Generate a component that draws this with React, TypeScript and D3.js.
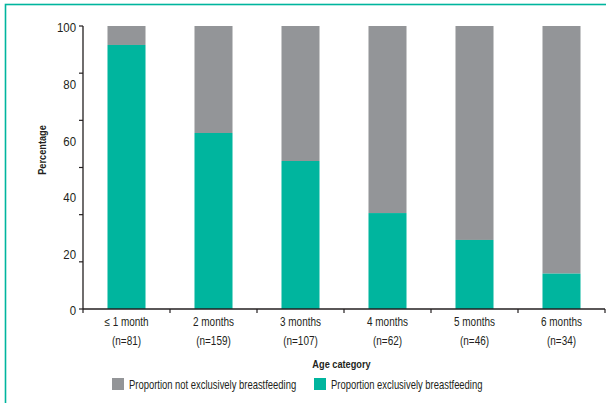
import React from "react";
import * as d3 from "d3";

const categories = ["≤ 1 month", "2 months", "3 months", "4 months", "5 months", "6 months"];
const sampleSizes = ["(n=81)", "(n=159)", "(n=107)", "(n=62)", "(n=46)", "(n=34)"];
const exclusive = [93.3, 62.2, 52.3, 33.9, 24.4, 12.5];
const notExclusive = exclusive.map((v) => 100 - v);
const yLabels = [0, 20, 40, 60, 80, 100];
const yTickMarks = [0, 1, 2, 3, 4, 5, 6].map((i) => (i * 100) / 6);
const legendItems = [
  { label: "Proportion not exclusively breastfeeding", key: "not" },
  { label: "Proportion exclusively breastfeeding", key: "excl" },
];

const TEAL = "#00b59e";
const GRAY = "#939598";
const INK = "#231f20";
const FONT = "'Liberation Sans', Arial, sans-serif";

function CText(props: {
  x: number; y: number; s: number; size: number; anchor?: string; bold?: boolean; rotate?: number; children: React.ReactNode;
}) {
  const { x, y, s, size, anchor = "start", bold, rotate = 0, children } = props;
  return (
    <text
      transform={`translate(${x},${y}) rotate(${rotate}) scale(${s},1)`}
      textAnchor={anchor}
      fontSize={size}
      fontWeight={bold ? "bold" : "normal"}
      fill={INK}
    >
      {children}
    </text>
  );
}

export default function App() {
  const W = 606, H = 403;
  const x0 = 83, x1 = 605, yTop = 26, yBot = 309;
  const x = d3.scaleBand<string>().domain(categories).range([x0, x1]).paddingInner(0.563).paddingOuter(0.2815);
  const y = d3.scaleLinear().domain([0, 100]).range([yBot, yTop]);
  const bw = x.bandwidth();
  const boundaries = d3.range(categories.length + 1).map((i) => x0 + i * ((x1 - x0) / categories.length));

  return (
    <svg width={W} height={H} style={{ position: "absolute", left: 0, top: 0, background: "#fff" }} fontFamily={FONT}>
      <rect x={5.5} y={4.5} width={W + 20} height={H + 20} fill="none" stroke={TEAL} strokeWidth={1.6} />
      {categories.map((c, i) => (
        <g key={c}>
          <rect x={x(c)} y={y(100)} width={bw} height={y(exclusive[i]) - y(100)} fill={GRAY} />
          <rect x={x(c)} y={y(exclusive[i])} width={bw} height={y(0) - y(exclusive[i])} fill={TEAL} />
        </g>
      ))}
      {/* y axis */}
      <line x1={x0} x2={x0} y1={yTop} y2={yBot} stroke={INK} strokeWidth={1.3} />
      {yTickMarks.map((t, i) => (
        <line key={i} x1={x0 - 4} x2={x0} y1={y(t)} y2={y(t)} stroke={INK} strokeWidth={1.2} />
      ))}
      {yLabels.map((t) => (
        <CText key={t} x={76} y={y(t) + 6.3} s={0.88} size={13} anchor="end">{t}</CText>
      ))}
      {/* x axis */}
      <line x1={x0} x2={x1} y1={yBot} y2={yBot} stroke={INK} strokeWidth={1.3} />
      {boundaries.map((b, i) => (
        <line key={i} x1={b} x2={b} y1={yBot} y2={yBot + 4} stroke={INK} strokeWidth={1.2} />
      ))}
      {categories.map((c, i) => (
        <g key={c}>
          <CText x={(x(c) as number) + bw / 2} y={326} s={0.83} size={12} anchor="middle">{c}</CText>
          <CText x={(x(c) as number) + bw / 2} y={345} s={0.83} size={12} anchor="middle">{sampleSizes[i]}</CText>
        </g>
      ))}
      <CText x={341.5} y={368} s={0.8} size={11.5} anchor="middle" bold>Age category</CText>
      <CText x={46} y={150} s={0.8} size={11.5} anchor="middle" bold rotate={-90}>Percentage</CText>
      {/* legend */}
      {legendItems.map((l, i) => {
        const lx = i === 0 ? 112 : 314;
        return (
          <g key={l.key}>
            <rect x={lx} y={378} width={12} height={12} fill={l.key === "not" ? GRAY : TEAL} />
            <CText x={lx + 17} y={389} s={0.755} size={12.5}>{l.label}</CText>
          </g>
        );
      })}
    </svg>
  );
}
